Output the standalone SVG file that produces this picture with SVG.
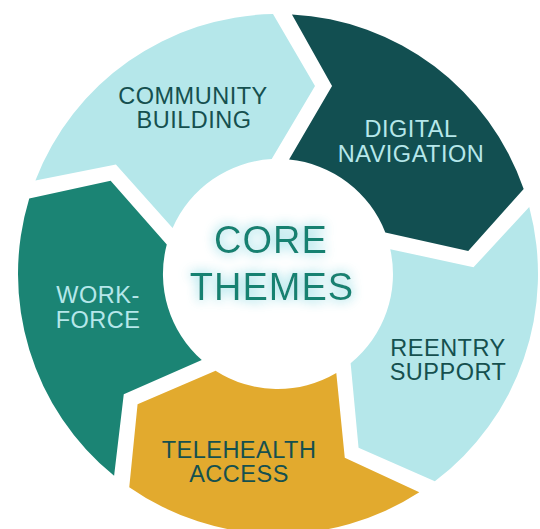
<svg xmlns="http://www.w3.org/2000/svg" xmlns:xlink="http://www.w3.org/1999/xlink" width="540" height="529" viewBox="0 0 540 529">
  <style>
    .lbl { font-family: "Liberation Sans", Arial, sans-serif; font-size: 23.5px; letter-spacing: 0.5px; text-anchor: middle; }
    .dark { fill: #15504f; }
    .light { fill: #b6e7ea; }
    .core { font-family: "Liberation Sans", Arial, sans-serif; font-size: 38px; letter-spacing: 1px; text-anchor: middle; fill: #188171; }
    .c-light { fill: #b5e7ea; }
    .c-dark { fill: #124f51; }
    .c-teal { fill: #1b8474; }
    .c-gold { fill: #e2aa2e; }
  </style>
  <defs>
    <path id="seg" d="M35.4,180.5 A260,260 0 0 1 273.0,14.05 L315,86 L271.7,159.1 A115,115 0 0 0 172.6,228.1 L115.9,164.5 Z"/>
    <filter id="glow" x="-30%" y="-40%" width="160%" height="180%">
      <feGaussianBlur in="SourceAlpha" stdDeviation="6" result="b"/>
      <feFlood flood-color="#a9e3ea" result="f"/>
      <feComposite in="f" in2="b" operator="in" result="g"/>
      <feMerge>
        <feMergeNode in="g"/>
        <feMergeNode in="g"/>
        <feMergeNode in="SourceGraphic"/>
      </feMerge>
    </filter>
  </defs>
  <rect width="540" height="529" fill="#ffffff"/>
  <g id="connectors"></g>
  <g id="community-building">
    <use xlink:href="#seg" class="c-light"/>
    <text class="lbl dark" x="193" y="103.5">COMMUNITY</text>
    <text class="lbl dark" x="194" y="127.5">BUILDING</text>
  </g>
  <g id="digital-navigation">
    <use xlink:href="#seg" class="c-dark" transform="rotate(72 278 274)"/>
    <text class="lbl light" x="411" y="137">DIGITAL</text>
    <text class="lbl light" x="411" y="162">NAVIGATION</text>
  </g>
  <g id="reentry-support">
    <use xlink:href="#seg" class="c-light" transform="rotate(144 278 274)"/>
    <text class="lbl dark" x="448" y="356">REENTRY</text>
    <text class="lbl dark" x="448" y="380">SUPPORT</text>
  </g>
  <g id="telehealth-access">
    <use xlink:href="#seg" class="c-gold" transform="rotate(216 278 274)"/>
    <text class="lbl dark" x="239" y="458">TELEHEALTH</text>
    <text class="lbl dark" x="239" y="482">ACCESS</text>
  </g>
  <g id="workforce">
    <use xlink:href="#seg" class="c-teal" transform="rotate(288 278 274)"/>
    <text class="lbl light" x="98" y="303">WORK-</text>
    <text class="lbl light" x="98" y="328">FORCE</text>
  </g>
  <g id="core-themes" filter="url(#glow)">
    <text class="core" x="271" y="253">CORE</text>
    <text class="core" x="272" y="300">THEMES</text>
  </g>
</svg>
